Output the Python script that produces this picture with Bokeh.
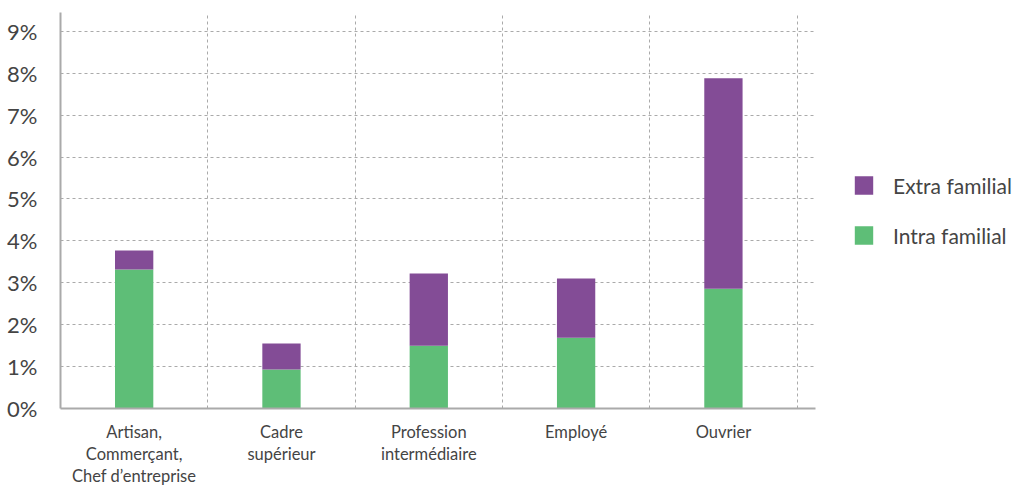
from bokeh.plotting import figure
from bokeh.models import Range1d, FixedTicker, Legend, LegendItem
from bokeh.embed import file_html
from bokeh.resources import INLINE

categories = ["Artisan,\nCommerçant,\nChef d’entreprise", "Cadre\nsupérieur",
              "Profession\nintermédiaire", "Employé", "Ouvrier"]
intra = [3.32, 0.93, 1.50, 1.69, 2.86]
extra = [0.45, 0.62, 1.72, 1.41, 5.02]
y_ticks = [0, 1, 2, 3, 4, 5, 6, 7, 8, 9]
y_labels = ["0%", "1%", "2%", "3%", "4%", "5%", "6%", "7%", "8%", "9%"]
series = ["intra", "extra"]
series_labels = ["Intra familial", "Extra familial"]
colors = ["#5EBE77", "#834C96"]

xs = list(range(len(categories)))
data = dict(x=xs, intra=intra, extra=extra)

FONT = "Lato"

p = figure(frame_width=755, frame_height=396,
           x_range=Range1d(-0.5, 4.625), y_range=Range1d(0, 9.45),
           output_backend="svg", toolbar_location=None,
           min_border_left=60, min_border_top=12, min_border_right=0, min_border_bottom=0)
p.outline_line_color = None

renderers = p.vbar_stack(series, x="x", width=0.26, color=colors, source=data, line_color=None)

# axes
p.xaxis.ticker = FixedTicker(ticks=xs)
p.xaxis.major_label_overrides = {i: c for i, c in zip(xs, categories)}
p.yaxis.ticker = FixedTicker(ticks=y_ticks)
p.yaxis.major_label_overrides = {t: l for t, l in zip(y_ticks, y_labels)}
for ax in (p.xaxis[0], p.yaxis[0]):
    ax.axis_line_color = "#aaaaaa"
    ax.axis_line_width = 2
    ax.major_tick_line_color = None
    ax.minor_tick_line_color = None
    ax.major_label_text_font = FONT
    ax.major_label_text_color = "#444444"
p.yaxis.major_label_text_font_size = "22px"
p.yaxis.major_label_standoff = 17
p.xaxis.major_label_text_font_size = "16.5px"
p.xaxis.major_label_text_line_height = 1.1
p.xaxis.major_label_standoff = 7

# grids
p.xgrid.ticker = FixedTicker(ticks=[0.5, 1.5, 2.5, 3.5, 4.5])
p.ygrid.ticker = FixedTicker(ticks=y_ticks[1:])
for g in (p.xgrid[0], p.ygrid[0]):
    g.grid_line_color = "#aaaaaa"
    g.grid_line_dash = "3 3"
    g.grid_line_width = 1

legend = Legend(items=[LegendItem(label=series_labels[1], renderers=[renderers[1]]),
                       LegendItem(label=series_labels[0], renderers=[renderers[0]])],
                location="center_left", orientation="vertical",
                glyph_width=23, glyph_height=23, label_height=23,
                label_text_font=FONT, label_text_font_size="21px", label_text_color="#444444",
                label_standoff=18, spacing=25, padding=0, margin=37,
                border_line_color=None, background_fill_color=None)
p.add_layout(legend, "right")

open("out.html", "w").write(file_html(p, INLINE))
